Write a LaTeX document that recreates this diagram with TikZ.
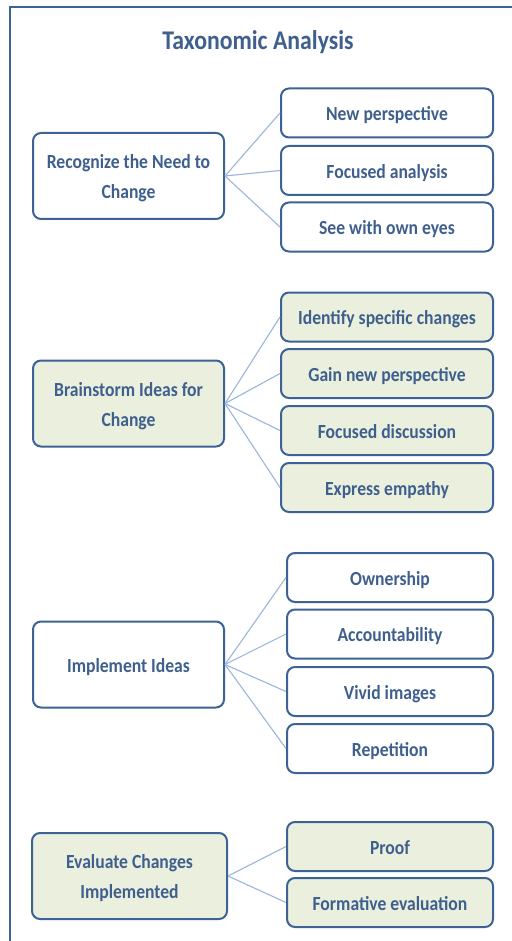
\documentclass[tikz,border=0pt]{standalone}
\usepackage{fontspec}
\setmainfont{Carlito}[FakeStretch=0.88]
\definecolor{boxline}{HTML}{3D6296}
\definecolor{txt}{HTML}{3F5F8E}
\definecolor{conn}{HTML}{9AB6DA}
\definecolor{greenfill}{HTML}{EAF0DD}
\begin{document}
\begin{tikzpicture}[x=1pt,y=-1pt,
  base/.style={draw=boxline, line width=2pt, rounded corners=8pt, fill=white,
    text=txt, inner sep=0pt, align=center, text depth=4pt,
    font=\fontsize{20}{30}\selectfont\bfseries},
  oneline/.style={text height=19.4pt},
  twoline/.style={text height=49.4pt},
  parent/.style={base, minimum width=191pt, minimum height=86pt},
  childA/.style={base, oneline, minimum width=212pt, minimum height=49pt},
  childB/.style={base, oneline, minimum width=206pt, minimum height=49pt},
  green/.style={fill=greenfill},
  link/.style={draw=conn, line width=1.1pt}]
\useasboundingbox (0,0) rectangle (511,941);
\fill[white] (0,0) rectangle (511,941);
\draw[boxline, line width=2pt] (10,942) -- (10,7) -- (512,7);
\node[text=txt, font=\fontsize{27}{32}\selectfont\bfseries] (title) at (258,42) {Taxonomic Analysis};
% group 1
\node[parent, twoline] (p1) at (128.5,176) {Recognize the Need to\\Change};
\node[childA] (c11) at (387,113) {New perspective};
\node[childA] (c12) at (387,170.5) {Focused analysis};
\node[childA] (c13) at (387,227) {See with own eyes};
% group 2
\node[parent, twoline, green] (p2) at (128.5,403.5) {Brainstorm Ideas for\\Change};
\node[childA, green] (c21) at (387,317) {Identify specific changes};
\node[childA, green] (c22) at (387,373.5) {Gain new perspective};
\node[childA, green] (c23) at (387,430.5) {Focused discussion};
\node[childA, green] (c24) at (387,487.5) {Express empathy};
% group 3
\node[parent, oneline] (p3) at (128.5,664.5) {Implement Ideas};
\node[childB] (c31) at (390,577.5) {Ownership};
\node[childB] (c32) at (390,634) {Accountability};
\node[childB] (c33) at (390,691.5) {Vivid images};
\node[childB] (c34) at (390,748.5) {Repetition};
% group 4
\node[parent, twoline, green, minimum width=195pt] (p4) at (129.5,876) {Evaluate Changes\\Implemented};
\node[childB, green] (c41) at (390,846.5) {Proof};
\node[childB, green] (c42) at (390,902.5) {Formative evaluation};
% links
\foreach \c in {c11,c12,c13} \draw[link] (p1.east) -- (\c.west);
\foreach \c in {c21,c22,c23,c24} \draw[link] (p2.east) -- (\c.west);
\foreach \c in {c31,c32,c33,c34} \draw[link] (p3.east) -- (\c.west);
\foreach \c in {c41,c42} \draw[link] (p4.east) -- (\c.west);
\end{tikzpicture}
\end{document}
